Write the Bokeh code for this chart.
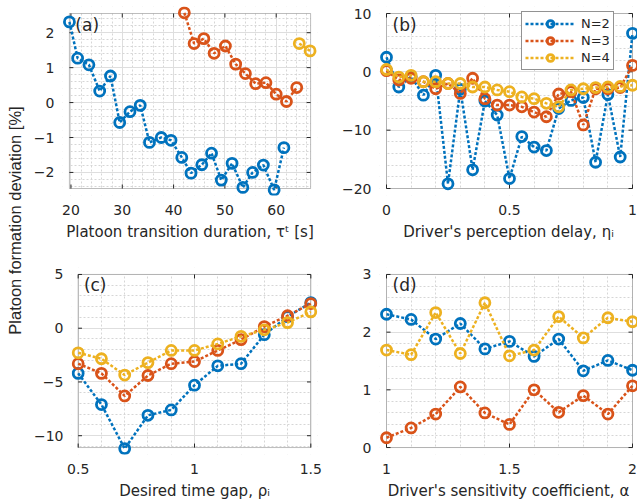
import math
import numpy as np
from bokeh.plotting import figure
from bokeh.models import Range1d, FixedTicker, Label, Legend, LegendItem, BoxAnnotation
from bokeh.layouts import row, column
from bokeh.embed import file_html
from bokeh.resources import INLINE

# ---------------- data ----------------
series_names = ["N=2", "N=3", "N=4"]

# (a) platoon transition duration
a_x_n2 = [19.7, 21.3, 23.5, 25.6, 27.7, 29.5, 31.5, 33.5, 35.3, 37.6, 39.5,
          41.6, 43.4, 45.5, 47.4, 49.3, 51.4, 53.5, 55.4, 57.5, 59.6, 61.5]
a_y_n2 = [2.31, 1.27, 1.08, 0.33, 0.76, -0.57, -0.26, -0.08, -1.14, -1.00, -1.08,
          -1.57, -2.02, -1.78, -1.45, -2.22, -1.74, -2.43, -2.00, -1.79, -2.50, -1.29]
a_x_n3 = [42.1, 44.0, 45.9, 47.9, 50.1, 52.1, 54.0, 56.0, 58.0, 60.0, 62.0, 64.0]
a_y_n3 = [2.57, 1.69, 1.83, 1.41, 1.62, 1.10, 0.83, 0.54, 0.57, 0.24, 0.03, 0.43]
a_x_n4 = [64.5, 66.6]
a_y_n4 = [1.69, 1.48]

# (b) driver's perception delay
b_x = [0.0, 0.05, 0.1, 0.15, 0.2, 0.25, 0.3, 0.35, 0.4, 0.45, 0.5,
       0.55, 0.6, 0.65, 0.7, 0.75, 0.8, 0.85, 0.9, 0.95, 1.0]
b_y_n2 = [2.5, -2.6, -0.8, -4.0, -0.6, -19.2, -3.0, -16.8, -5.0, -7.4, -18.3,
          -11.1, -12.9, -13.5, -6.3, -4.9, -4.4, -15.5, -3.9, -14.6, 6.6]
b_y_n3 = [0.2, -1.4, -1.1, -1.7, -2.9, -2.0, -3.7, -1.1, -4.6, -5.7, -5.7,
          -6.0, -6.9, -7.7, -3.8, -3.4, -9.1, -2.9, -2.9, -2.7, 1.1]
b_y_n4 = [0.4, -0.9, -0.6, -1.7, -1.7, -2.0, -2.0, -2.6, -2.6, -3.1, -3.4,
          -4.3, -4.6, -5.4, -6.0, -3.1, -2.9, -2.7, -2.6, -2.5, -2.3]

# (c) desired time gap
c_x = [0.5, 0.6, 0.7, 0.8, 0.9, 1.0, 1.1, 1.2, 1.3, 1.4, 1.5]
c_y_n2 = [-4.2, -7.1, -11.2, -8.1, -7.6, -5.3, -3.5, -3.3, -0.6, 1.07, 2.38]
c_y_n3 = [-3.3, -4.2, -6.3, -4.4, -3.3, -3.1, -2.07, -1.07, 0.15, 1.16, 2.29]
c_y_n4 = [-2.29, -2.84, -4.36, -3.2, -2.07, -2.07, -1.46, -0.76, -0.15, 0.52, 1.52]

# (d) driver's sensitivity coefficient
d_x = [1.0, 1.1, 1.2, 1.3, 1.4, 1.5, 1.6, 1.7, 1.8, 1.9, 2.0]
d_y_n2 = [2.31, 2.22, 1.88, 2.15, 1.71, 1.84, 1.58, 1.88, 1.33, 1.51, 1.34]
d_y_n3 = [0.17, 0.34, 0.58, 1.05, 0.60, 0.40, 1.00, 0.61, 0.90, 0.58, 1.07]
d_y_n4 = [1.69, 1.61, 2.34, 1.63, 2.51, 1.59, 1.69, 2.27, 1.90, 2.25, 2.18]

# axis limits
a_xlim, a_ylim = (19.7, 66.7), (-2.46, 2.55)
b_xlim, b_ylim = (0, 1), (-20, 10)
c_xlim, c_ylim = (0.5, 1.5), (-11.1, 5)
d_xlim, d_ylim = (1, 2), (0, 3)

# ticks
a_xticks = [20, 30, 40, 50, 60]
a_yticks = [-2, -1, 0, 1, 2]
b_xticks = [0, 0.5, 1]
b_xticklabels = ["0", "0.5", "1"]
b_yticks = [-20, -10, 0, 10]
c_xticks = [0.5, 1, 1.5]
c_xticklabels = ["0.5", "1", "1.5"]
c_yticks = [-10, -5, 0, 5]
d_xticks = [1, 1.5, 2]
d_xticklabels = ["1", "1.5", "2"]
d_yticks = [0, 1, 2, 3]

x_labels = ["Platoon transition duration, \u03c4\u1d57 [s]",
            "Driver's perception delay, \u03b7\u1d62",
            "Desired time gap, \u03c1\u1d62",
            "Driver's sensitivity coefficient, \u03b1"]
tags = ["(a)", "(b)", "(c)", "(d)"]
y_label = "Platoon formation deviation [%]"

# ---------------- style ----------------
FONT = "DejaVu Sans"
TXT = "#262626"
COLORS = ["#0072BD", "#D95319", "#EDB120"]
TICK_LEN = 4


def make_panel(width, height, box_border, pads, xr, yr, xt, xlab_map, xminor_step,
               yt, yminor_step, xlabel, tag):
    """box_border: (left, right, top, bottom) distance of the axes box from the canvas edge.
    pads: extra frame room around the box (so edge markers are not clipped)."""
    bl, br, bt, bb = box_border
    pl, pr, pt, pb_ = pads
    box_w = width - bl - br
    box_h = height - bt - bb
    sx = (xr[1] - xr[0]) / box_w
    sy = (yr[1] - yr[0]) / box_h
    xe = (xr[0] - pl * sx, xr[1] + pr * sx)
    ye = (yr[0] - pb_ * sy, yr[1] + pt * sy)

    p = figure(width=width, height=height, output_backend="svg", toolbar_location=None,
               title=None, x_range=Range1d(*xe), y_range=Range1d(*ye),
               min_border_left=bl - pl, min_border_right=br - pr,
               min_border_top=bt - pt, min_border_bottom=bb - pb_)
    p.background_fill_color = "white"
    p.border_fill_color = "white"
    p.outline_line_color = None

    x_minor = [v for v in np.arange(xt[0] - 5 * xminor_step, xt[-1] + 5 * xminor_step, xminor_step)
               if xr[0] < v < xr[1]]
    y_minor = [v for v in np.arange(yt[0] - 5 * yminor_step, yt[-1] + 5 * yminor_step, yminor_step)
               if yr[0] < v < yr[1]]
    xtick = FixedTicker(ticks=xt, minor_ticks=x_minor)
    ytick = FixedTicker(ticks=yt, minor_ticks=y_minor)
    p.xaxis.ticker = xtick
    p.yaxis.ticker = ytick
    p.xgrid.ticker = xtick
    p.ygrid.ticker = ytick
    if xlab_map is not None:
        p.xaxis.major_label_overrides = xlab_map

    for ax in (p.xaxis[0], p.yaxis[0]):
        ax.axis_line_color = None
        ax.major_tick_line_color = None
        ax.minor_tick_line_color = None
        ax.major_label_text_font = FONT
        ax.major_label_text_font_size = "14px"
        ax.major_label_text_color = TXT
    p.yaxis.major_label_standoff = 9 - pl
    p.xaxis.major_label_standoff = 10 - pb_
    p.xaxis.axis_label = xlabel
    p.xaxis.axis_label_text_font = FONT
    p.xaxis.axis_label_text_font_size = "15px"
    p.xaxis.axis_label_text_font_style = "normal"
    p.xaxis.axis_label_text_color = TXT
    p.xaxis.axis_label_standoff = 5

    for g in (p.xgrid[0], p.ygrid[0]):
        g.grid_line_color = "#dedede"
        g.grid_line_width = 1
        g.minor_grid_line_color = "#d6d6d6"
        g.minor_grid_line_dash = "2 2"
        g.minor_grid_line_width = 1

    # white masks outside the axes box (over the grid, under the data)
    masks = [(xe[0], xr[0], ye[0], ye[1]), (xr[1], xe[1], ye[0], ye[1]),
             (xe[0], xe[1], ye[0], yr[0]), (xe[0], xe[1], yr[1], ye[1])]
    for (l, r, b, t) in masks:
        if r - l <= 0 or t - b <= 0:
            continue
        p.add_layout(BoxAnnotation(left=l, right=r, bottom=b, top=t, fill_color="white",
                                   fill_alpha=1, line_color=None, level="underlay"))
    # axes box
    p.add_layout(BoxAnnotation(left=xr[0], right=xr[1], bottom=yr[0], top=yr[1],
                               fill_color=None, fill_alpha=0, line_color=TXT,
                               line_width=1, level="underlay"))
    # inward ticks on all four sides (MATLAB box style)
    tl_x, tl_y = TICK_LEN * sx, TICK_LEN * sy
    sx0 = [t for t in xt] * 2
    sy0 = [yr[0]] * len(xt) + [yr[1]] * len(xt)
    sy1 = [yr[0] + tl_y] * len(xt) + [yr[1] - tl_y] * len(xt)
    p.segment(x0=sx0, y0=sy0, x1=sx0, y1=sy1, line_color=TXT, line_width=1)
    ty0 = [t for t in yt] * 2
    tx0 = [xr[0]] * len(yt) + [xr[1]] * len(yt)
    tx1 = [xr[0] + tl_x] * len(yt) + [xr[1] - tl_x] * len(yt)
    p.segment(x0=tx0, y0=ty0, x1=tx1, y1=ty0, line_color=TXT, line_width=1)

    tx = xr[0] + 6.0 * sx
    ty = yr[1] - 11.0 * sy
    p.add_layout(Label(x=tx, y=ty, text=tag, text_font=FONT, text_font_size="17px",
                       text_color=TXT, text_align="left", text_baseline="middle"))
    return p


def add_series(p, xs, ys, color):
    ln = p.line(xs, ys, line_color=color, line_width=2.5, line_dash="3 2")
    sc = p.scatter(xs, ys, marker="circle", size=10, fill_color=None,
                   line_color=color, line_width=2.8)
    return ln, sc


PAD1 = (7, 7, 7, 7)
PAD2 = (7, 5, 7, 7)

pa = make_panel(300, 250, (36, 20, 13, 62), PAD1, a_xlim, a_ylim,
                a_xticks, None, 2, a_yticks, 0.2, x_labels[0], tags[0])
add_series(pa, a_x_n2, a_y_n2, COLORS[0])
add_series(pa, a_x_n3, a_y_n3, COLORS[1])
add_series(pa, a_x_n4, a_y_n4, COLORS[2])

pb = make_panel(307, 250, (56, 5, 13, 62), PAD2, b_xlim, b_ylim,
                b_xticks, dict(zip(b_xticks, b_xticklabels)), 0.1, b_yticks, 2,
                x_labels[1], tags[1])
rb = [add_series(pb, b_x, ys, col) for ys, col in zip([b_y_n2, b_y_n3, b_y_n4], COLORS)]
legend = Legend(items=[LegendItem(label=n, renderers=list(r)) for n, r in zip(series_names, rb)],
                location=(135 + PAD2[0], 118 + PAD2[3]))
legend.border_line_color = TXT
legend.border_line_width = 1
legend.background_fill_color = "white"
legend.background_fill_alpha = 1
legend.label_text_font = FONT
legend.label_text_font_size = "13px"
legend.label_text_color = TXT
legend.glyph_width = 50
legend.glyph_height = 17
legend.label_height = 17
legend.label_standoff = 6
legend.padding = 3
legend.spacing = 0
legend.margin = 0
pb.add_layout(legend)

pc = make_panel(300, 252, (36, 20, 24, 54), PAD1, c_xlim, c_ylim,
                c_xticks, dict(zip(c_xticks, c_xticklabels)), 0.1, c_yticks, 1,
                x_labels[2], tags[2])
for ys, col in zip([c_y_n2, c_y_n3, c_y_n4], COLORS):
    add_series(pc, c_x, ys, col)

pd_ = make_panel(307, 252, (56, 5, 24, 54), PAD2, d_xlim, d_ylim,
                 d_xticks, dict(zip(d_xticks, d_xticklabels)), 0.1, d_yticks, 0.2,
                 x_labels[3], tags[3])
for ys, col in zip([d_y_n2, d_y_n3, d_y_n4], COLORS):
    add_series(pd_, d_x, ys, col)

# shared y label strip
LAB_H = 502
lab = figure(width=30, height=LAB_H, output_backend="svg", toolbar_location=None, title=None,
             x_range=Range1d(0, 30), y_range=Range1d(0, LAB_H), min_border=0,
             x_axis_type=None, y_axis_type=None)
lab.outline_line_color = None
lab.grid.visible = False
lab.add_layout(Label(x=14, y=LAB_H - 220, text=y_label, angle=math.pi / 2,
                     text_font="Liberation Sans", text_font_size="16.5px", text_color=TXT,
                     text_align="center", text_baseline="middle"))

layout = row(lab, column(row(pa, pb), row(pc, pd_)))

with open("out.html", "w") as f:
    f.write(file_html(layout, INLINE))
